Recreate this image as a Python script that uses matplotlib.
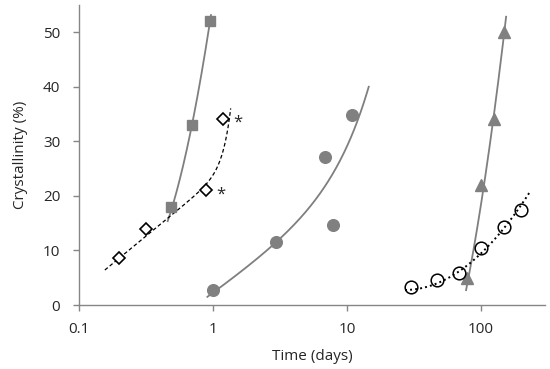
import numpy as np
import matplotlib
matplotlib.use("Agg")
import matplotlib.pyplot as plt

plt.rcParams['font.family'] = ['Open Sans', 'DejaVu Sans']

# ---- data ----
sq_x = [0.49, 0.70, 0.95]
sq_y = [18.0, 33.0, 52.0]

dia_x = [0.20, 0.316, 0.89, 1.19]
dia_y = [8.7, 14.0, 21.0, 34.1]
dia_star = [False, False, True, True]

circ_x = [1.0, 2.95, 6.85, 7.9, 10.9]
circ_y = [2.8, 11.6, 27.1, 14.6, 34.8]

tri_x = [79, 100, 125, 148]
tri_y = [5.0, 22.0, 34.0, 50.0]

ocirc_x = [30, 47, 68.5, 100, 148, 198]
ocirc_y = [3.3, 4.5, 5.9, 10.4, 14.3, 17.4]

# ---- fitted trend curves ----
# polynomial in u = log10(x) - shift
sq_fit = dict(coef=[137.3, 165.3, 55.56], shift=0.0, xr=(0.459, 0.966))
tri_fit = dict(coef=[142.8, 156.85, 18.48], shift=2.0, xr=(77.3, 153.8))
ocirc_fit = dict(coef=[20.46, 23.44, 9.46], shift=2.0, xr=(27.1, 229.6))
# y = a + b*u + c*exp(k*u), u = log10(x)
circ_fit = dict(a=2.014, b=17.21, c=0.2439, k=3.7, xr=(0.908, 14.52))
dia_fit = dict(a=22.71, b=20.2, c=1.10, k=17.2, xr=(0.156, 1.355))

x_ticks = [0.1, 1, 10, 100]
x_ticklabels = ['0.1', '1', '10', '100']
y_ticks = [0, 10, 20, 30, 40, 50]

gray = '#808080'
line_gray = '#7f7f7f'
txt = '#262626'

fig = plt.figure(figsize=(5.5, 3.69), dpi=100)
ax = fig.add_axes([0.1436, 0.1734, 0.9909 - 0.1436, 0.8138])


def poly_curve(f):
    xs = np.logspace(np.log10(f['xr'][0]), np.log10(f['xr'][1]), 200)
    ys = np.polyval(f['coef'], np.log10(xs) - f['shift'])
    return xs, ys


def exp_curve(f):
    xs = np.logspace(np.log10(f['xr'][0]), np.log10(f['xr'][1]), 200)
    u = np.log10(xs)
    return xs, f['a'] + f['b'] * u + f['c'] * np.exp(f['k'] * u)


# trend lines
xs, ys = poly_curve(sq_fit)
ax.plot(xs, ys, color=line_gray, lw=1.3, zorder=2)
xs, ys = exp_curve(circ_fit)
ax.plot(xs, ys, color=line_gray, lw=1.3, zorder=2)
xs, ys = poly_curve(tri_fit)
ax.plot(xs, ys, color=line_gray, lw=1.3, zorder=2)
xs, ys = poly_curve(ocirc_fit)
ax.plot(xs, ys, color='black', lw=1.4, linestyle=(0, (1, 1.6)), zorder=2)
xs, ys = exp_curve(dia_fit)
ax.plot(xs, ys, color='black', lw=0.9, linestyle=(0, (3, 2)), zorder=2)

# markers
ax.plot(sq_x, sq_y, 's', ms=7.2, color=gray, mec=gray, zorder=3)
ax.plot(circ_x, circ_y, 'o', ms=8.4, color=gray, mec=gray, zorder=3)
ax.plot(tri_x, tri_y, '^', ms=8.8, color=gray, mec=gray, zorder=3)
ax.plot(dia_x, dia_y, 'D', ms=6.3, mfc='white', mec='black', mew=1.2, zorder=4)
ax.plot(ocirc_x, ocirc_y, 'o', ms=9.1, mfc='none', mec='black', mew=1.1, zorder=4)

for x, y, s in zip(dia_x, dia_y, dia_star):
    if s:
        ax.annotate('*', (x, y), xytext=(10.5, -3), textcoords='offset points',
                    fontsize=12, color=txt, ha='center', va='center')

ax.set_xscale('log')
ax.set_xlim(0.1, 300)
ax.set_ylim(0, 55)
ax.set_xticks(x_ticks)
ax.set_xticklabels(x_ticklabels)
ax.xaxis.set_minor_locator(matplotlib.ticker.NullLocator())
ax.set_yticks(y_ticks)

for s in ['top', 'right']:
    ax.spines[s].set_visible(False)
for s in ['left', 'bottom']:
    ax.spines[s].set_color('#868686')
    ax.spines[s].set_linewidth(1.0)

ax.tick_params(axis='both', colors='#868686', labelcolor=txt, labelsize=11,
               length=4.5, width=1.0, direction='out')
ax.tick_params(axis='y', pad=9)
ax.tick_params(axis='x', pad=8)

ax.set_xlabel('Time (days)', fontsize=11, color=txt)
ax.set_ylabel('Crystallinity (%)', fontsize=11, color=txt)
ax.xaxis.set_label_coords(0.5, -0.145)
ax.yaxis.set_label_coords(-0.11, 0.5)

fig.savefig('out.png', dpi=100)
